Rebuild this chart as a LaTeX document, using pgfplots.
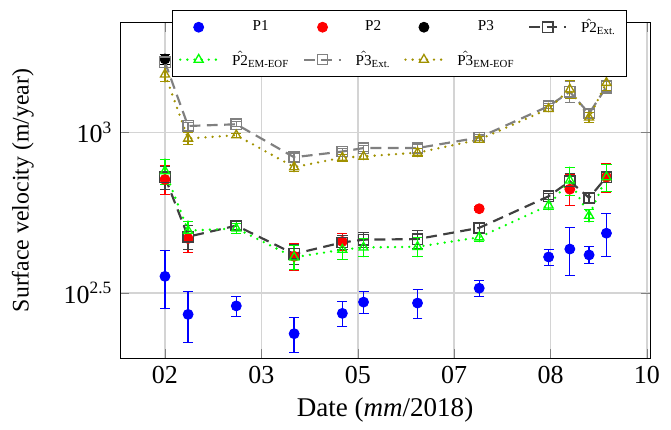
\documentclass[border=0pt]{standalone}
\usepackage{amsmath}
\usepackage{fontspec}
\setmainfont{Liberation Serif}
\usepackage{pgfplots}
\pgfplotsset{compat=1.18}
\definecolor{olivey}{RGB}{160,145,0}
\definecolor{gridgray}{RGB}{212,212,212}

\begin{document}
\begin{tikzpicture}
\begin{axis}[
  scale only axis,
  width=245pt, height=155pt,
  xmin=-23.3, xmax=251.6,
  ymode=log, ymin=198, ymax=2190,
  xtick={0,50,100,150,200,250},
  xticklabels={02,03,05,07,08,10},
  ytick={316.2278,1000},
  yticklabels={10\textsuperscript{2.5},10\textsuperscript{3}},
  x tick label style={font=\fontsize{12}{14}\selectfont},
  y tick label style={font=\fontsize{12}{14}\selectfont},
  grid=major,
  grid style={gridgray,line width=0.7pt},
  xlabel={Date (\textit{mm}/2018)},
  ylabel={Surface velocity (m/year)},
  xlabel style={font=\fontsize{12.5}{14}\selectfont},
  ylabel style={font=\fontsize{11}{13}\selectfont},
  ylabel shift=7pt,
  legend columns=4,
  legend cell align=center,
  legend style={at={(0.098,1.04)},anchor=north west,
    font=\fontsize{7}{8}\selectfont,draw=black,fill=white,
    /tikz/column sep=4.3pt,/tikz/row sep=3pt},
  error bars/y dir=both,
  error bars/y explicit,
  error bars/error bar style={solid,line width=0.6pt},
]
% measured points
\addplot[only marks,mark=*,blue,mark size=2.3pt] coordinates {
  (0,356) +- (0,73)  (12,271) +- (0,49) (37,288) +- (0,21)
  (67,236) +- (0,29) (92,273) +- (0,25) (103,296) +- (0,24)
  (131,294) +- (0,30) (163,327) +- (0,18) (199,409) +- (0,24)
  (210,433) +- (0,74) (220,415) +- (0,25) (229,485) +- (0,74)
};
\addlegendentry{P1}
\addplot[only marks,mark=*,red,mark size=2.3pt] coordinates {
  (0,713) +- (0,74) (12,467) +- (0,45) (67,411) +- (0,39)
  (92,457) +- (0,27) (163,578) +- (0,8) (210,665) +- (0,74)
  (229,725) +- (0,73)
};
\addlegendentry{P2}
\addplot[only marks,mark=*,black,mark size=2.3pt] coordinates {
  (0,1691) +- (0,60)
};
\addlegendentry{P3}
% extrapolated / reconstructed series
\addplot[black!75,line width=1pt,dash pattern=on 5pt off 3pt,
  mark=square,mark size=2.4pt,mark options={solid,line width=0.6pt}] coordinates {
  (0,725) +- (0,60)  (12,473) +- (0,40) (37,512) +- (0,15)
  (67,418) +- (0,30) (92,454) +- (0,22) (103,463) +- (0,25)
  (131,465) +- (0,30) (163,504) +- (0,15) (199,632) +- (0,15)
  (210,704) +- (0,40) (220,625) +- (0,20) (229,725) +- (0,70)
};
\addlegendentry{$\hat{\text{P2}}_{\text{Ext.}}$}
\addplot[green,line width=1.2pt,line cap=round,dash pattern=on 0pt off 3.3pt,
  mark=triangle,mark size=2.4pt,mark options={solid,line width=0.6pt}] coordinates {
  (0,757) +- (0,68)  (12,494) +- (0,35) (37,502) +- (0,18)
  (67,408) +- (0,35) (92,431) +- (0,28) (103,438) +- (0,28)
  (131,440) +- (0,30) (163,471) +- (0,15) (199,592) +- (0,18)
  (210,708) +- (0,71) (220,550) +- (0,24) (229,725) +- (0,70)
};
\addlegendentry{$\hat{\text{P2}}_{\text{EM-EOF}}$}
\addplot[black!50,line width=1pt,dash pattern=on 5pt off 3pt,
  mark=square,mark size=2.4pt,mark options={solid,line width=0.6pt}] coordinates {
  (0,1652) +- (0,60) (12,1046) +- (0,30) (37,1059) +- (0,20)
  (67,836) +- (0,25) (92,871) +- (0,20) (103,893) +- (0,20)
  (131,893) +- (0,25) (163,963) +- (0,20) (199,1206) +- (0,20)
  (210,1336) +- (0,100) (220,1144) +- (0,30) (229,1385) +- (0,60)
};
\addlegendentry{$\hat{\text{P3}}_{\text{Ext.}}$}
\addplot[olivey,line width=1.2pt,line cap=round,dash pattern=on 0pt off 3.3pt,
  mark=triangle,mark size=2.4pt,mark options={solid,line width=0.6pt}] coordinates {
  (0,1515) +- (0,80) (12,956) +- (0,40) (37,979) +- (0,15)
  (67,779) +- (0,25) (92,834) +- (0,20) (103,841) +- (0,20)
  (131,864) +- (0,25) (163,949) +- (0,20) (199,1183) +- (0,25)
  (210,1360) +- (0,90) (220,1112) +- (0,40) (229,1426) +- (0,80)
};
\addlegendentry{$\hat{\text{P3}}_{\text{EM-EOF}}$}
\end{axis}
\path ([xshift=-55.5pt,yshift=-31.5pt]current axis.south west)
      ([xshift=9.7pt,yshift=10.6pt]current axis.north east);
\end{tikzpicture}
\end{document}
